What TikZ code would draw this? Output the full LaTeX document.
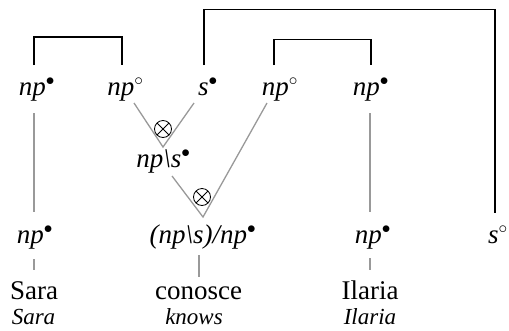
\documentclass[tikz,border=0pt]{standalone}
\usepackage{fontspec}
\setmainfont{Liberation Serif}
\begin{document}
\begin{tikzpicture}[x=1pt,y=-1pt,
  lbl/.style={inner sep=0pt,anchor=base,font=\fontsize{27}{30}\selectfont},
  wrd/.style={inner sep=0pt,anchor=base,font=\fontsize{27}{30}\selectfont},
  gl/.style={inner sep=0pt,anchor=base,font=\fontsize{23}{26}\selectfont\itshape},
  link/.style={draw=black,line width=1.5pt},
  ax/.style={draw=gray!80,line width=1.3pt},
  tens/.style={circle,draw,line width=0.8pt,inner sep=0pt,minimum size=17pt,path picture={
    \draw[line width=0.8pt] (path picture bounding box.north west)--(path picture bounding box.south east)
          (path picture bounding box.north east)--(path picture bounding box.south west);}}]
\useasboundingbox (0,0) rectangle (509,330);
\node[lbl] (t1) at (37,95) {\textit{np}$^\bullet$};
\node[lbl] (t2) at (125.5,95) {\textit{np}$^\circ$};
\node[lbl] (t3) at (208,95) {\textit{s}$^\bullet$};
\node[lbl] (t4) at (280,95) {\textit{np}$^\circ$};
\node[lbl] (t5) at (371,95) {\textit{np}$^\bullet$};
\node[lbl] (m) at (163.5,167) {\textit{np\textbackslash s}$^\bullet$};
\node[lbl] (b1) at (35,243) {\textit{np}$^\bullet$};
\node[lbl] (b2) at (203,243) {\textit{(np\textbackslash s)/np}$^\bullet$};
\node[lbl] (b3) at (373,243) {\textit{np}$^\bullet$};
\node[lbl] (b4) at (498,243) {\textit{s}$^\circ$};
\node[wrd] (w1) at (34,299) {Sara};
\node[gl] (g1) at (33.5,324) {Sara};
\node[wrd] (w2) at (198.5,299) {conosce};
\node[gl] (g2) at (194,324) {knows};
\node[wrd] (w3) at (370,299) {Ilaria};
\node[gl] (g3) at (370,324) {Ilaria};
\coordinate (v1) at (163,147);
\coordinate (v2) at (203,217);
\node[tens] (x1) at (163,129) {};
\node[tens] (x2) at (202,197) {};
% links
\draw[link] (34,65) |- (122,37) -- (122,65);
\draw[link] (274,65) |- (371,39.5) -- (371,65);
\draw[link] (204,65) |- (495,9.5) -- (495,213);
% axioms
\draw[ax] (34,113) -- (34,212);
\draw[ax] (370,113) -- (370,212);
\draw[ax] (34,259) -- (34,270);
\draw[ax] (199,255) -- (199,277);
\draw[ax] (370,258) -- (370,270);
\draw[ax] (134,103) -- (v1) -- (194,103);
\draw[ax] (172,176) -- (v2) -- (267,103);
\end{tikzpicture}
\end{document}
